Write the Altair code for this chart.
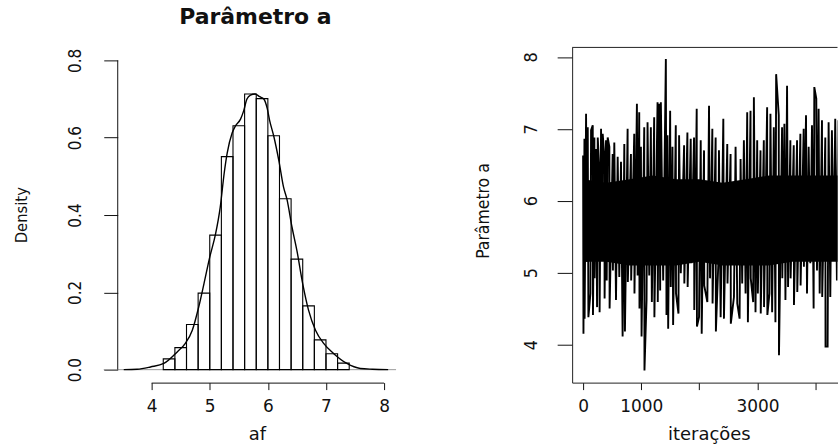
import altair as alt
import pandas as pd

# ---------------- data ----------------
# Left panel: histogram (density scale), bins of width 0.2
bin_start = [4.2, 4.4, 4.6, 4.8, 5.0, 5.2, 5.4, 5.6, 5.8, 6.0, 6.2, 6.4, 6.6, 6.8, 7.0, 7.2]
bin_density = [0.028, 0.057, 0.117, 0.198, 0.348, 0.551, 0.631, 0.713, 0.701, 0.605,
               0.442, 0.286, 0.165, 0.077, 0.041, 0.017]
bin_width = 0.2

# Left panel: kernel density curve
curve_x = [3.52, 3.75, 3.98, 4.21, 4.44, 4.58, 4.70, 4.81, 4.90, 5.00,
           5.10, 5.18, 5.25, 5.30, 5.385, 5.44, 5.53, 5.585, 5.64, 5.70,
           5.78, 5.86, 5.93, 5.99, 6.03, 6.10, 6.19, 6.27, 6.33, 6.415,
           6.50, 6.60, 6.70, 6.82, 6.96, 7.13, 7.36, 7.59, 7.80, 8.07]
curve_y = [0.000, 0.001, 0.007, 0.016, 0.046, 0.068, 0.102, 0.162, 0.222, 0.291,
           0.351, 0.420, 0.510, 0.560, 0.612, 0.630, 0.648, 0.670, 0.700, 0.710,
           0.713, 0.706, 0.700, 0.675, 0.645, 0.605, 0.540, 0.472, 0.440, 0.369,
           0.308, 0.222, 0.154, 0.102, 0.068, 0.042, 0.016, 0.003, 0.001, 0.000]

# Right panel: trace plot, upper and lower excursions
hi_iter = [0, 23, 51, 80, 137, 166, 194, 223, 252, 280, 309, 337, 366, 394, 423, 452,
           509, 537, 595, 652, 709, 766, 823, 880, 926, 966, 995, 1052, 1109, 1166,
           1223, 1281, 1309, 1338, 1424, 1452, 1498, 1538, 1595, 1652, 1738, 1795,
           1852, 1909, 1955, 2024, 2081, 2167, 2224, 2281, 2338, 2413, 2481, 2538,
           2624, 2710, 2767, 2824, 2881, 2939, 2996, 3053, 3110, 3167, 3224, 3282,
           3322, 3367, 3424, 3464, 3510, 3567, 3625, 3682, 3739, 3796, 3836, 3882,
           3939, 3979, 4013, 4053, 4111, 4168, 4225, 4282, 4339, 4391]
hi_val = [6.63, 6.86, 7.21, 7.02, 6.98, 7.05, 6.88, 6.72, 6.88, 6.38, 7.00, 6.93, 6.61,
          6.84, 6.88, 6.75, 6.65, 6.81, 6.61, 6.54, 6.79, 7.00, 6.65, 6.93, 7.35, 7.23,
          6.75, 7.02, 7.09, 7.02, 7.16, 7.37, 7.35, 7.37, 7.97, 6.91, 7.25, 6.75, 7.05,
          6.91, 6.77, 6.95, 6.86, 6.88, 7.28, 6.84, 6.70, 7.32, 7.00, 6.88, 6.70, 7.14,
          6.79, 6.65, 6.75, 6.58, 6.84, 7.23, 7.25, 7.44, 6.84, 6.70, 6.84, 7.30, 7.21,
          7.02, 7.76, 7.19, 7.02, 7.07, 7.60, 6.84, 6.77, 6.84, 6.93, 7.00, 7.19, 6.75,
          7.05, 7.58, 7.42, 7.28, 7.12, 6.88, 7.09, 6.98, 7.14, 7.12]
lo_iter = [6, 26, 63, 91, 126, 170, 198, 240, 284, 326, 370, 406, 456, 513, 566, 623,
           680, 720, 770, 827, 884, 938, 970, 1006, 1056, 1092, 1138, 1183, 1227, 1285,
           1326, 1378, 1435, 1464, 1509, 1549, 1599, 1641, 1681, 1742, 1799, 1864, 1913,
           1959, 1995, 2041, 2085, 2138, 2184, 2228, 2285, 2327, 2367, 2424, 2485, 2542,
           2596, 2653, 2693, 2738, 2796, 2836, 2885, 2927, 2967, 3007, 3057, 3114, 3171,
           3207, 3253, 3310, 3371, 3428, 3482, 3527, 3571, 3629, 3686, 3743, 3800, 3853,
           3910, 3967, 4025, 4071, 4115, 4172, 4208, 4254, 4311, 4368]
lo_val = [4.15, 4.36, 5.15, 4.38, 4.71, 4.41, 4.92, 4.52, 4.45, 5.22, 4.64, 4.89, 4.50,
          5.03, 4.62, 4.94, 4.11, 4.18, 4.87, 4.89, 4.71, 4.96, 4.50, 4.11, 3.64, 4.62,
          4.96, 4.59, 4.38, 4.59, 4.75, 4.89, 4.41, 4.22, 4.80, 4.27, 4.71, 4.43, 4.99,
          4.85, 4.80, 5.13, 4.48, 4.25, 4.38, 4.15, 4.82, 4.59, 4.92, 4.57, 4.18, 5.13,
          4.38, 4.36, 4.85, 4.29, 4.66, 4.57, 4.36, 4.85, 4.71, 4.31, 4.92, 4.59, 4.45,
          4.71, 4.43, 4.52, 4.41, 4.71, 4.45, 4.31, 3.85, 4.92, 4.62, 4.80, 4.92, 4.55,
          4.73, 4.82, 5.08, 4.71, 5.13, 4.50, 5.03, 4.71, 4.66, 3.97, 3.97, 4.66, 5.17,
          4.89]
# Right panel: limits of the solid black core of the trace
core_iter = [0, 400, 800, 1200, 1600, 2000, 2400, 2800, 3200, 3600, 4000, 4400]
core_top = [6.30, 6.25, 6.30, 6.35, 6.30, 6.30, 6.25, 6.30, 6.35, 6.35, 6.35, 6.35]
core_bot = [5.15, 5.15, 5.10, 5.10, 5.10, 5.15, 5.10, 5.10, 5.10, 5.15, 5.15, 5.15]

# tick values and texts
left_x_ticks = [4, 5, 6, 7, 8]
left_y_ticks = [0.0, 0.2, 0.4, 0.6, 0.8]
right_x_ticks = [0, 1000, 2000, 3000, 4000]
right_x_unlabeled = [2000, 4000]
right_y_ticks = [4, 5, 6, 7, 8]

main_title = ["Parâmetro a"]
left_x_title = "af"
left_y_title = "Density"
right_x_title = "iterações"
right_y_title = "Parâmetro a"

# ---------------- layout / style ----------------
H = 336
LW = 279
RW = 266
HFONT = "DejaVu Sans"
VFONT = "Liberation Sans Narrow, DejaVu Sans Condensed, sans-serif"
INK = "#111111"

lx = alt.Scale(domain=[3.4163, 8.206], nice=False, zero=False)
ly = alt.Scale(domain=[-0.0335, 0.8335], nice=False, zero=False)
rx = alt.Scale(domain=[-188.8, 4378], nice=False, zero=False)
ry = alt.Scale(domain=[3.47, 8.132], nice=False, zero=False)

hist_df = pd.DataFrame({"start": bin_start,
                        "end": [s + bin_width for s in bin_start],
                        "dens": bin_density,
                        "base": [0.0] * len(bin_start)})
curve_df = pd.DataFrame({"start": curve_x, "dens": curve_y})
trace_df = pd.concat([pd.DataFrame({"iter": hi_iter, "val": hi_val}),
                      pd.DataFrame({"iter": lo_iter, "val": lo_val})])
trace_df = trace_df.sort_values("iter").reset_index(drop=True)
trace_df["k"] = range(len(trace_df))
core_df = pd.DataFrame({"iter": core_iter, "val": core_top, "val2": core_bot})
one = pd.DataFrame({"k": [0]})
xline_df = pd.DataFrame({"start": [left_x_ticks[0]], "end": [left_x_ticks[-1]]})
yline_df = pd.DataFrame({"dens": [left_y_ticks[-1]], "base": [left_y_ticks[0]]})
zero_df = pd.DataFrame({"dens": [left_y_ticks[0]]})
title_df = pd.DataFrame({"t": main_title})


def pin(dx, dy):
    # white (invisible) anchor that fixes the panel's outer bounds
    return alt.Chart(one).mark_rule(color="white", strokeWidth=1).encode(
        x=alt.value(dx), x2=alt.value(dx + 1), y=alt.value(dy))


left_x_axis = alt.Axis(
    values=left_x_ticks, title=left_x_title, domain=False, grid=False,
    tickSize=7, tickColor=INK, tickWidth=1,
    labelFont=HFONT, labelFontSize=17, labelColor=INK, labelBaseline="alphabetic",
    labelPadding=22, labelFlush=False, labelOverlap=False,
    titleFont=HFONT, titleFontSize=18, titleFontWeight="normal", titleColor=INK,
    titleBaseline="alphabetic", titleY=57.5)
left_y_axis = alt.Axis(
    values=left_y_ticks, format=".1f", title=left_y_title, domain=False, grid=False,
    tickSize=14, tickColor=INK, tickWidth=1,
    labelFont=VFONT, labelFontSize=17, labelColor=INK, labelAngle=270,
    labelAlign="center", labelBaseline="alphabetic", labelPadding=23,
    labelFlush=False, labelOverlap=False,
    titleFont=VFONT, titleFontSize=16.5, titleFontWeight="normal", titleColor=INK,
    titleAngle=270, titleAlign="center", titleBaseline="alphabetic",
    titleX=-91, titleY=167.7)

label_expr = ("indexof([" + ",".join(str(v) for v in right_x_unlabeled)
              + "], datum.value) >= 0 ? '' : datum.label")
right_x_axis = alt.Axis(
    values=right_x_ticks, format="d", labelExpr=label_expr, title=right_x_title,
    domain=True, domainColor="#222222", domainWidth=1, grid=False,
    tickSize=7, tickColor=INK, tickWidth=1,
    labelFont=HFONT, labelFontSize=17, labelColor=INK, labelBaseline="alphabetic",
    labelPadding=22, labelFlush=False, labelOverlap=False,
    titleFont=HFONT, titleFontSize=18, titleFontWeight="normal", titleColor=INK,
    titleBaseline="alphabetic", titleY=57.5, titleX=137)
right_y_axis = alt.Axis(
    values=right_y_ticks, format="d", title=right_y_title,
    domain=True, domainColor="#222222", domainWidth=1, grid=False,
    tickSize=15, tickColor=INK, tickWidth=1,
    labelFont=VFONT, labelFontSize=18, labelColor=INK, labelAngle=270,
    labelAlign="center", labelBaseline="alphabetic", labelPadding=21,
    labelFlush=False, labelOverlap=False,
    titleFont=VFONT, titleFontSize=17.5, titleFontWeight="normal", titleColor=INK,
    titleAngle=270, titleAlign="center", titleBaseline="alphabetic",
    titleX=-84, titleY=163.5)


def LX(field):
    return alt.X(field, type="quantitative", scale=lx, axis=left_x_axis)


def LY(field):
    return alt.Y(field, type="quantitative", scale=ly, axis=left_y_axis)


# ---------------- left panel ----------------
zero_line = alt.Chart(zero_df).mark_rule(color="#9a9a9a", strokeWidth=1).encode(
    x=alt.value(-14), x2=alt.value(LW), y=LY("dens"))
bars = alt.Chart(hist_df).mark_rect(filled=False, stroke="black", strokeWidth=1.1).encode(
    x=LX("start"), x2="end:Q", y=LY("dens"), y2="base:Q")
curve = alt.Chart(curve_df).mark_line(color="black", strokeWidth=1.4, interpolate="monotone").encode(
    x=LX("start"), y=LY("dens"))
x_line = alt.Chart(xline_df).mark_rule(color=INK, strokeWidth=1).encode(
    x=LX("start"), x2="end:Q", y=alt.value(H + 0.5))
y_line = alt.Chart(yline_df).mark_rule(color=INK, strokeWidth=1).encode(
    y=LY("dens"), y2="base:Q", x=alt.value(0))
title = alt.Chart(title_df).mark_text(
    font=HFONT, fontSize=22, fontWeight="bold", color=INK,
    align="center", baseline="alphabetic").encode(
    x=alt.value(138), y=alt.value(-23.2), text="t:N")

left = alt.layer(pin(-117, -46.5), zero_line, bars, curve, x_line, y_line, title).properties(
    width=LW, height=H)

# ---------------- right panel ----------------
core = alt.Chart(core_df).mark_area(color="black", clip=True).encode(
    x=alt.X("iter:Q", scale=rx, axis=right_x_axis),
    y=alt.Y("val:Q", scale=ry, axis=right_y_axis), y2="val2:Q")
trace = alt.Chart(trace_df).mark_line(color="black", strokeWidth=1.9, clip=True).encode(
    x=alt.X("iter:Q", scale=rx, axis=right_x_axis),
    y=alt.Y("val:Q", scale=ry, axis=right_y_axis),
    order="k:Q")
top_line = alt.Chart(one).mark_rule(color="#222222", strokeWidth=1).encode(
    x=alt.value(0), x2=alt.value(RW), y=alt.value(0))

right = alt.layer(pin(-171, -46.5), core, trace, top_line).properties(width=RW, height=H)

chart = alt.hconcat(left, right, spacing=3.5).properties(
    padding=0, background="white").configure_view(stroke=None)

chart.save("out.html", embed_options={"renderer": "svg", "actions": False})
